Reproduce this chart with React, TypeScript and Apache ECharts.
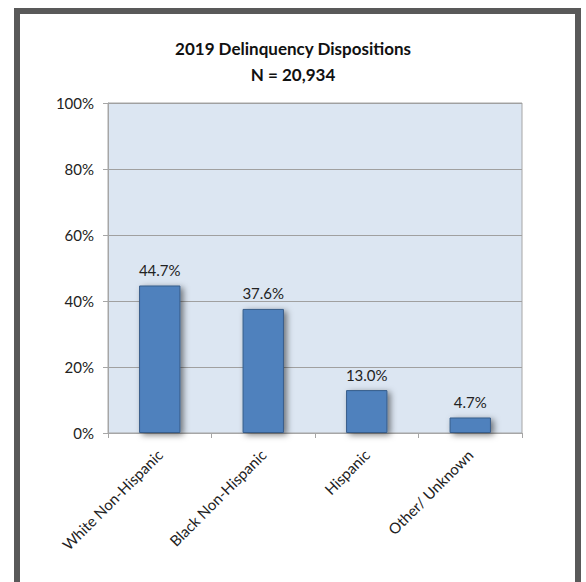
import React, { useEffect, useRef } from "react";
import * as echarts from "echarts";

const categories = ["White Non-Hispanic", "Black Non-Hispanic", "Hispanic", "Other/ Unknown"];
const values = [44.7, 37.6, 13.0, 4.7];
const titleLines = ["2019 Delinquency Dispositions", "N = 20,934"];
const yTicks = [0, 20, 40, 60, 80, 100];

export default function App() {
  const ref = useRef<HTMLDivElement>(null);
  useEffect(() => {
    if (!ref.current) return;
    const chart = echarts.init(ref.current, null, { renderer: "svg" });
    const font = "Lato, 'Open Sans', sans-serif";
    chart.setOption({
      animation: false,
      backgroundColor: "#ffffff",
      title: {
        text: titleLines.join("\n"),
        left: "center",
        top: 30,
        textStyle: {
          fontFamily: font,
          fontSize: 17,
          fontWeight: "bold",
          color: "#111",
          lineHeight: 26,
        },
      },
      graphic: [
        {
          type: "rect",
          shape: { x: 17, y: 11, width: 561, height: 620 },
          style: { fill: "none", stroke: "#595959", lineWidth: 6 },
          z: 100,
        },
      ],
      grid: {
        left: 108,
        right: 64,
        top: 103,
        bottom: 149,
        show: true,
        backgroundColor: "#DCE6F2",
        borderColor: "#A6A6A6",
        borderWidth: 1,
      },
      xAxis: {
        type: "category",
        data: categories,
        axisLine: { lineStyle: { color: "#A6A6A6" } },
        axisTick: { show: true, length: 5, lineStyle: { color: "#A6A6A6" } },
        axisLabel: {
          rotate: 45,
          interval: 0,
          fontFamily: font,
          fontSize: 15,
          color: "#222",
          margin: 19,
        },
      },
      yAxis: {
        type: "value",
        min: yTicks[0],
        max: yTicks[yTicks.length - 1],
        interval: 20,
        axisLine: { show: true, lineStyle: { color: "#A6A6A6" } },
        axisTick: { show: true, length: 5, lineStyle: { color: "#A6A6A6" } },
        splitLine: { lineStyle: { color: "#A0A0A0" } },
        axisLabel: {
          formatter: "{value}%",
          fontFamily: font,
          fontSize: 15,
          color: "#222",
          margin: 14,
        },
      },
      series: [
        {
          type: "bar",
          data: values,
          barWidth: "40%",
          itemStyle: {
            color: "#4F81BD",
            borderColor: "#385D8A",
            borderWidth: 1,
            shadowColor: "rgba(0,0,0,0.5)",
            shadowBlur: 6,
            shadowOffsetX: 3,
            shadowOffsetY: 2,
          },
          label: {
            show: true,
            position: "top",
            distance: 8,
            formatter: (p: any) => p.value.toFixed(1) + "%",
            fontFamily: font,
            fontSize: 15,
            color: "#222",
          },
        },
      ],
    });
    return () => chart.dispose();
  }, []);
  return (
    <div
      ref={ref}
      style={{ position: "fixed", left: 0, top: 0, width: 586, height: 582 }}
    />
  );
}
